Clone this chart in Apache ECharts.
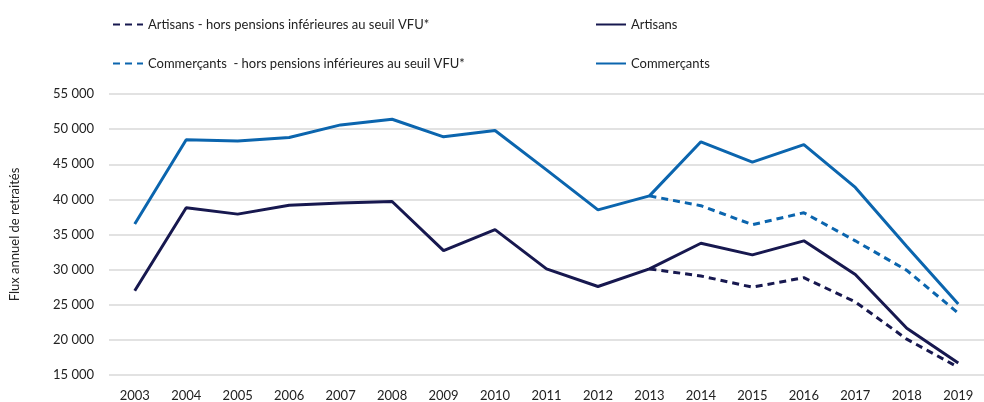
<!DOCTYPE html>
<html>
<head>
<meta charset="utf-8">
<script src="https://cdn.jsdelivr.net/npm/echarts@6/dist/echarts.min.js"></script>
<style>
  html, body { margin: 0; padding: 0; background: #fff; }
  #chart { width: 984px; height: 402px; }
</style>
</head>
<body>
<div id="chart"></div>
<script>
var years = ['2003','2004','2005','2006','2007','2008','2009','2010','2011','2012','2013','2014','2015','2016','2017','2018','2019'];
var artisans = [27000,38800,37900,39150,39500,39700,32700,35700,30100,27600,30100,33750,32100,34100,29300,21650,16700];
var artisansHors = [null,null,null,null,null,null,null,null,null,null,30100,29100,27500,28850,25400,20100,16100];
var commercants = [36500,48500,48300,48800,50600,51400,48900,49800,44200,38500,40500,48200,45300,47800,41700,33300,25100];
var commercantsHors = [null,null,null,null,null,null,null,null,null,null,40500,39100,36400,38100,34100,29900,23800];

var navy = '#17184f';
var blue = '#0b65ae';
var font = 'Lato';

function fmt(v) {
    return String(v).replace(/\B(?=(\d{3})+(?!\d))/g, ' ');
}

function leg(name, left, top) {
    return {
        data: [{ name: name, itemStyle: { opacity: 0 } }], left: left, top: top,
        itemWidth: 30, itemHeight: 12, itemGap: 6,
        textStyle: { fontFamily: font, fontSize: 13, color: '#222' }
    };
}

var names = [
    'Artisans - hors pensions inférieures au seuil VFU*',
    'Artisans',
    'Commerçants  - hors pensions inférieures au seuil VFU*',
    'Commerçants'
];

var chart = echarts.init(document.getElementById('chart'));
chart.setOption({
    animation: false,
    legend: [
        leg(names[0], 107, 13),
        leg(names[1], 590, 13),
        leg(names[2], 107, 52),
        leg(names[3], 590, 52)
    ],
    grid: { left: 108, right: -4, top: 94, bottom: 27 },
    xAxis: {
        type: 'category',
        data: years,
        boundaryGap: true,
        axisLine: { show: false },
        axisTick: { show: false },
        axisLabel: { fontFamily: font, fontSize: 13, color: '#222', margin: 14 }
    },
    yAxis: {
        type: 'value',
        min: 15000, max: 55000, interval: 5000,
        name: 'Flux annuel de retraités',
        nameLocation: 'middle',
        nameGap: 88,
        nameTextStyle: { fontFamily: font, fontSize: 13, color: '#222' },
        axisLabel: { fontFamily: font, fontSize: 13, color: '#222', margin: 15, formatter: fmt },
        splitLine: { lineStyle: { color: '#d9d9d9', width: 1.5 } }
    },
    series: [
        { name: names[0], type: 'line', data: artisansHors, symbol: 'none',
          lineStyle: { color: navy, width: 3, type: [7, 5] }, itemStyle: { color: navy } },
        { name: names[1], type: 'line', data: artisans, symbol: 'none',
          lineStyle: { color: navy, width: 3 }, itemStyle: { color: navy } },
        { name: names[2], type: 'line', data: commercantsHors, symbol: 'none',
          lineStyle: { color: blue, width: 3, type: [7, 5] }, itemStyle: { color: blue } },
        { name: names[3], type: 'line', data: commercants, symbol: 'none',
          lineStyle: { color: blue, width: 3 }, itemStyle: { color: blue } }
    ]
});
</script>
</body>
</html>
